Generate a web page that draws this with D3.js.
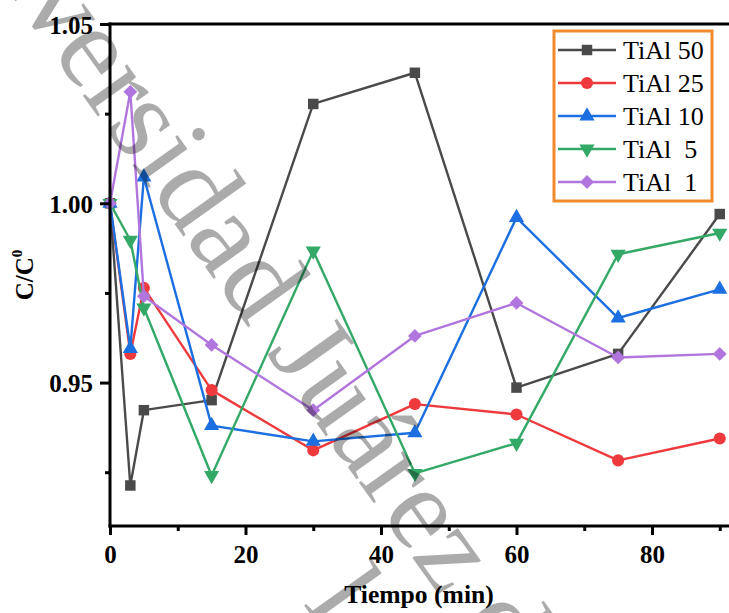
<!DOCTYPE html>
<html><head><meta charset="utf-8">
<script src="https://cdn.jsdelivr.net/npm/d3@7"></script>
<style>html,body{margin:0;padding:0;background:#fff;}svg{display:block;}</style>
</head><body>
<svg id="chart" width="729" height="613"></svg>
<script>
const times = [0, 3, 5, 15, 30, 45, 60, 75, 90];
const seriesNames = ["TiAl 50", "TiAl 25", "TiAl 10", "TiAl  5", "TiAl  1"];
const tial50 = [1.000, 0.9213, 0.9423, 0.9451, 1.0277, 1.0364, 0.9486, 0.958, 0.997];
const tial25 = [1.000, 0.958, 0.9764, 0.9479, 0.9311, 0.9440, 0.9411, 0.9283, 0.9344];
const tial10 = [1.000, 0.9595, 1.0073, 0.938, 0.9336, 0.936, 0.996, 0.968, 0.976];
const tial5  = [1.000, 0.9897, 0.9708, 0.9241, 0.9867, 0.9247, 0.9331, 0.9858, 0.9917];
const tial1  = [1.000, 1.0311, 0.9741, 0.9605, 0.9423, 0.963, 0.9722, 0.957, 0.958];
const xTicks = [0, 20, 40, 60, 80];
const xMinor = [10, 30, 50, 70, 90];
const yTicks = [0.95, 1.00, 1.05];
const yTickLabels = ["0.95", "1.00", "1.05"];
const yMinor = [0.925, 0.975, 1.025];
const colors = ["#4a4a4a", "#ee3a3d", "#1c6fe0", "#33a867", "#b076de"];
const shapes = ["square", "circle", "triangle", "down", "diamond"];
const values = [tial50, tial25, tial10, tial5, tial1];

const svg = d3.select("#chart");
const L = 110, B = 526, T = 24;
const x = d3.scaleLinear().domain([0, 92]).range([L, L + 6.775 * 92]);
const y = d3.scaleLinear().domain([0.91, 1.05]).range([B, T]);
const FONT = '"Liberation Serif"';

function symPath(shape) {
  if (shape === "square") return d3.symbol(d3.symbolSquare, 110)();
  if (shape === "circle") return d3.symbol(d3.symbolCircle, 115)();
  if (shape === "triangle" || shape === "down") return d3.symbol(d3.symbolTriangle, 100)();
  return d3.symbol(d3.symbolSquare, 95)();
}
function symRot(shape) {
  if (shape === "down") return 180;
  if (shape === "diamond") return 45;
  return 0;
}

// series
const line = d3.line().x(d => x(d[0])).y(d => y(d[1]));
values.forEach((vals, i) => {
  const pts = times.map((t, j) => [t, vals[j]]);
  const g = svg.append("g");
  g.append("path").attr("d", line(pts)).attr("fill", "none")
    .attr("stroke", colors[i]).attr("stroke-width", 2.4).attr("stroke-linejoin", "round");
  g.selectAll("path.m").data(pts).enter().append("path").attr("class", "m")
    .attr("d", symPath(shapes[i]))
    .attr("transform", d => `translate(${x(d[0])},${y(d[1])}) rotate(${symRot(shapes[i])})`)
    .attr("fill", colors[i]);
});

function styleText(sel, size, bold) {
  return sel.style("font-family", FONT).style("font-size", size + "px")
     .style("font-weight", bold ? "bold" : "normal").attr("fill", "#000");
}

// axes
const xAxis = d3.axisBottom(x).tickValues(xTicks).tickSize(9).tickFormat(d3.format("d"));
const gx = svg.append("g").attr("transform", `translate(0,${B})`).call(xAxis);
gx.attr("font-family", null).attr("font-size", null);
gx.select(".domain").remove();
gx.selectAll(".tick line").attr("stroke", "#000").attr("stroke-width", 3);
styleText(gx.selectAll(".tick text").attr("y", 19).attr("dy", "0.71em"), 25, true);
const xAxisMinor = d3.axisBottom(x).tickValues(xMinor).tickSize(5).tickFormat("");
const gxm = svg.append("g").attr("transform", `translate(0,${B})`).call(xAxisMinor);
gxm.select(".domain").remove();
gxm.selectAll(".tick line").attr("stroke", "#000").attr("stroke-width", 3);

const yAxis = d3.axisLeft(y).tickValues(yTicks).tickSize(10).tickFormat((d, i) => yTickLabels[i]);
const gy = svg.append("g").attr("transform", `translate(${L},0)`).call(yAxis);
gy.attr("font-family", null).attr("font-size", null);
gy.select(".domain").remove();
gy.selectAll(".tick line").attr("stroke", "#000").attr("stroke-width", 3);
styleText(gy.selectAll(".tick text").attr("x", -17).attr("dy", "0.36em"), 25, true);
const yAxisMinor = d3.axisLeft(y).tickValues(yMinor).tickSize(5).tickFormat("");
const gym = svg.append("g").attr("transform", `translate(${L},0)`).call(yAxisMinor);
gym.select(".domain").remove();
gym.selectAll(".tick line").attr("stroke", "#000").attr("stroke-width", 3);

// frame lines
svg.append("line").attr("x1", L).attr("x2", L).attr("y1", T - 1.5).attr("y2", B + 1.5)
  .attr("stroke", "#000").attr("stroke-width", 3);
svg.append("line").attr("x1", L - 1.5).attr("x2", 729).attr("y1", B).attr("y2", B)
  .attr("stroke", "#000").attr("stroke-width", 3);
svg.append("line").attr("x1", L - 1.5).attr("x2", 729).attr("y1", T).attr("y2", T)
  .attr("stroke", "#000").attr("stroke-width", 3);

// axis titles
styleText(svg.append("text").attr("x", 419).attr("y", 603).attr("text-anchor", "middle")
  .text("Tiempo (min)"), 25.6, true);
const yl = styleText(svg.append("text").attr("transform", "translate(33,275) rotate(-90)")
  .attr("text-anchor", "middle"), 25, true);
yl.append("tspan").text("C/C");
yl.append("tspan").style("font-size", "15px").attr("dy", -11).text("0");

// legend
const lg = svg.append("g");
lg.append("rect").attr("x", 554).attr("y", 31).attr("width", 158).attr("height", 170)
  .attr("fill", "#fff").attr("stroke", "#f08a2c").attr("stroke-width", 3);
seriesNames.forEach((name, i) => {
  const ry = 50 + i * 33;
  lg.append("line").attr("x1", 558).attr("x2", 616).attr("y1", ry).attr("y2", ry)
    .attr("stroke", colors[i]).attr("stroke-width", 2.4);
  lg.append("path").attr("d", symPath(shapes[i]))
    .attr("transform", `translate(587,${ry}) rotate(${symRot(shapes[i])})`).attr("fill", colors[i]);
  styleText(lg.append("text").attr("x", 623).attr("y", ry).attr("dy", "0.35em")
    .style("white-space", "pre").text(name), 26, false);
});

// watermark (rotated, semi-transparent)
styleText(svg.append("text").attr("transform", "translate(-86,-141) rotate(54.5)")
  .style("white-space", "pre").text("Universidad Juárez del Estado"), 118, false)
  .attr("fill-opacity", 0.33);
// second watermark line (only a stem is visible)
const a = 54.5 * Math.PI / 180, u = [Math.cos(a), Math.sin(a)], v = [-Math.sin(a), Math.cos(a)];
const p2 = 667, q2 = 104;
styleText(svg.append("text")
  .attr("transform", `translate(${p2 * u[0] + q2 * v[0]},${p2 * u[1] + q2 * v[1]}) rotate(54.5)`)
  .text("l"), 118, false).attr("fill-opacity", 0.33);
</script>
</body></html>
